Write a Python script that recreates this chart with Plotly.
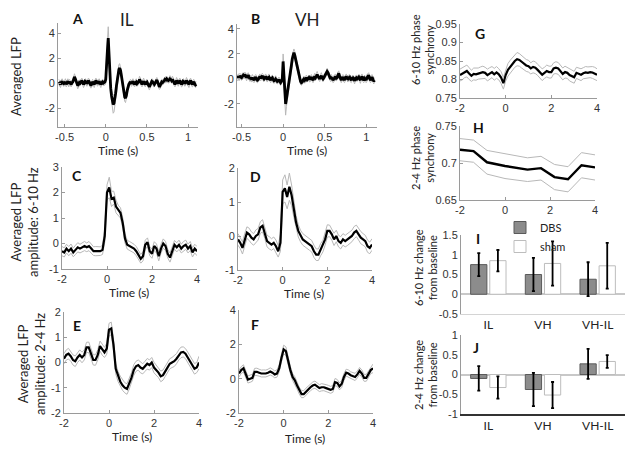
import numpy as np
import plotly.graph_objects as go

# window size and the page's default body margin (figure is drawn at +8,+8)
WIN_W, WIN_H, OFF = 635, 453, 8
W, H = WIN_W - 2 * OFF, WIN_H - 2 * OFF

# ---------------- data ----------------
# Panel A: averaged LFP, IL (time step 0.01 s, starting at -0.57 s)
lfp_A = [
 0.1, 0.0, -0.1, 0.05, 0.15, 0.0, -0.05,
 0.0, 0.1, -0.1, 0.05, 0.15, -0.05, 0.1, 0.0, -0.1, 0.05,
 0.1, 0.3, 0.5, 0.35, 0.1, -0.1, -0.2, -0.1, 0.05, 0.0,
 0.1, 0.2, 0.05, -0.1, 0.0, 0.15, 0.1, -0.05, 0.05, 0.2,
 0.1, -0.1, -0.2, -0.05, 0.1, 0.0, -0.1, 0.05, 0.2, 0.1,
 -0.05, 0.05, 0.15, 0.0, -0.1, 0.05, 0.1, 0.0, 0.05, 0.1,
 0.3, 2.2, 2.6, 3.6, 2.0, 0.5, -0.4, -1.0, -1.4, -1.7,
 -1.6, -1.3, -0.8, -0.2, 0.4, 0.8, 1.1, 1.2, 1.0, 0.6,
 0.1, -0.4, -0.8, -1.1, -1.2, -1.0, -0.6, -0.3, -0.1, 0.0,
 0.1, -0.05, 0.05, 0.15, 0.0, -0.1, 0.05, 0.1, -0.05, 0.0,
 0.1, 0.3, 0.15, 0.0, -0.1, 0.05, 0.15, 0.0, -0.1, 0.05,
 0.1, -0.05, -0.2, -0.3, -0.15, 0.05, 0.15, 0.1, -0.05, -0.1,
 0.0, 0.1, 0.25, 0.1, -0.1, -0.3, -0.2, 0.0, 0.1, 0.05,
 0.1, 0.2, 0.3, 0.25, 0.35, 0.3, 0.2, 0.25, 0.35, 0.3,
 0.2, 0.3, 0.15, 0.0, -0.1, 0.05, 0.2, 0.1, -0.05, 0.1,
 0.2, 0.05, -0.1, 0.0, 0.15, 0.1, -0.05, 0.05, 0.2, 0.1,
 0.0, -0.1, 0.1, 0.2, 0.05, -0.1, 0.0, 0.1, -0.05, -0.15, -0.1,
]
sem_A = [
 0.2, 0.2, 0.25, 0.2, 0.2, 0.2, 0.2,
 0.2, 0.25, 0.2, 0.2, 0.2, 0.25, 0.2, 0.2, 0.2, 0.2,
 0.2, 0.2, 0.25, 0.2, 0.2, 0.2, 0.25, 0.2, 0.2, 0.2,
 0.2, 0.2, 0.2, 0.25, 0.2, 0.2, 0.2, 0.2, 0.25, 0.2,
 0.2, 0.25, 0.2, 0.2, 0.2, 0.2, 0.25, 0.2, 0.2, 0.2,
 0.2, 0.2, 0.2, 0.2, 0.25, 0.2, 0.2, 0.2, 0.2, 0.25,
 0.3, 0.6, 0.8, 0.9, 0.7, 0.4, 0.3, 0.4, 0.5, 0.7,
 0.7, 0.5, 0.4, 0.3, 0.3, 0.35, 0.4, 0.35, 0.3, 0.3,
 0.3, 0.3, 0.3, 0.35, 0.35, 0.3, 0.25, 0.25, 0.2, 0.2,
 0.2, 0.2, 0.25, 0.2, 0.2, 0.2, 0.2, 0.25, 0.2, 0.2,
 0.2, 0.25, 0.2, 0.2, 0.2, 0.2, 0.25, 0.2, 0.2, 0.2,
 0.2, 0.2, 0.2, 0.25, 0.2, 0.2, 0.2, 0.2, 0.25, 0.2,
 0.2, 0.25, 0.2, 0.2, 0.2, 0.2, 0.25, 0.2, 0.2, 0.2,
 0.2, 0.2, 0.2, 0.25, 0.2, 0.2, 0.2, 0.2, 0.25, 0.2,
 0.2, 0.25, 0.2, 0.2, 0.2, 0.2, 0.25, 0.2, 0.2, 0.2,
 0.2, 0.2, 0.2, 0.25, 0.2, 0.2, 0.2, 0.2, 0.25, 0.2,
 0.2, 0.25, 0.2, 0.2, 0.2, 0.2, 0.25, 0.2, 0.2, 0.2, 0.2,
]
# Panel B: averaged LFP, VH (time step 0.01 s, starting at -0.55 s)
lfp_B = [
 0.05, 0.2, 0.1, 0.25, 0.15,
 0.1, 0.2, 0.3, 0.2, 0.35, 0.25, 0.1, 0.2, 0.3, 0.15,
 0.0, 0.1, -0.05, 0.1, 0.0, -0.1, 0.05, 0.15, 0.0, -0.1,
 -0.05, 0.1, 0.2, 0.05, 0.15, 0.25, 0.1, 0.0, 0.1, 0.2,
 0.05, -0.05, 0.1, 0.15, 0.0, -0.1, 0.05, 0.1, -0.05, -0.15,
 -0.1, 0.0, -0.1, -0.2, -0.15, -0.05, -0.2, -0.3, -0.2, 0.0,
 1.4, 0.3, -1.0, -2.0, -1.6, -1.2, -0.8, -0.4, 0.0, 0.5,
 1.1, 1.6, 1.9, 2.1, 1.9, 1.6, 1.2, 0.9, 0.6, 0.3,
 0.0, -0.2, -0.3, -0.25, -0.1, 0.0, -0.1, 0.05, 0.1, -0.05,
 0.0, 0.1, -0.05, 0.05, 0.15, 0.0, -0.1, 0.05, 0.2, 0.1,
 0.2, 0.35, 0.2, 0.1, 0.0, 0.15, 0.25, 0.1, 0.0, 0.1,
 0.2, 0.3, 0.45, 0.6, 0.5, 0.3, 0.1, 0.0, 0.1, 0.05,
 -0.1, 0.0, 0.15, 0.2, 0.05, 0.1, 0.3, 0.45, 0.2, 0.0,
 -0.1, 0.05, 0.15, 0.0, -0.1, 0.1, 0.2, 0.05, 0.0, 0.1,
 0.15, 0.0, -0.1, 0.05, 0.1, 0.0, -0.15, 0.05, 0.1, 0.0,
 0.05, 0.15, 0.0, -0.1, 0.1, 0.2, 0.0, -0.1, 0.05, 0.0,
 -0.1, 0.1, 0.25, 0.3, 0.05, -0.1, 0.0, 0.15, 0.0, -0.2, -0.1,
]
sem_B = [
 0.2, 0.2, 0.25, 0.2, 0.2,
 0.2, 0.25, 0.2, 0.2, 0.2, 0.2, 0.25, 0.2, 0.2, 0.2,
 0.2, 0.2, 0.2, 0.25, 0.2, 0.2, 0.2, 0.2, 0.25, 0.2,
 0.2, 0.25, 0.2, 0.2, 0.2, 0.2, 0.25, 0.2, 0.2, 0.2,
 0.2, 0.2, 0.2, 0.25, 0.2, 0.2, 0.2, 0.2, 0.25, 0.2,
 0.2, 0.25, 0.2, 0.2, 0.2, 0.2, 0.25, 0.2, 0.2, 0.25,
 0.6, 0.5, 0.7, 0.9, 0.6, 0.4, 0.3, 0.3, 0.3, 0.3,
 0.3, 0.3, 0.35, 0.3, 0.3, 0.3, 0.25, 0.25, 0.2, 0.2,
 0.2, 0.25, 0.2, 0.2, 0.2, 0.2, 0.25, 0.2, 0.2, 0.2,
 0.2, 0.2, 0.2, 0.25, 0.2, 0.2, 0.2, 0.2, 0.25, 0.2,
 0.2, 0.25, 0.2, 0.2, 0.2, 0.2, 0.25, 0.2, 0.2, 0.2,
 0.2, 0.2, 0.2, 0.25, 0.2, 0.2, 0.2, 0.2, 0.25, 0.2,
 0.2, 0.25, 0.2, 0.2, 0.2, 0.2, 0.25, 0.2, 0.2, 0.2,
 0.2, 0.2, 0.2, 0.25, 0.2, 0.2, 0.2, 0.2, 0.25, 0.2,
 0.2, 0.25, 0.2, 0.2, 0.2, 0.2, 0.25, 0.2, 0.2, 0.2,
 0.2, 0.2, 0.2, 0.25, 0.2, 0.2, 0.2, 0.2, 0.25, 0.2,
 0.2, 0.25, 0.2, 0.2, 0.2, 0.2, 0.25, 0.2, 0.2, 0.2, 0.2,
]

# Panels C-H: time -2..4 s, step 0.1 s
amp610_IL = [
 -0.3, -0.35, -0.2, -0.3, -0.2, -0.35, -0.25, -0.15, -0.2, -0.15,
 -0.1, -0.15, -0.1, -0.2, -0.3, -0.3, -0.3, -0.3, -0.25, 0.3,
 2.0, 2.2, 1.75, 1.8, 1.45, 1.3, 1.2, 0.8, 0.2, -0.05,
 -0.1, -0.15, -0.2, -0.3, -0.45, -0.6, -0.5, -0.05, 0.05, -0.3,
 -0.4, -0.1, -0.2, -0.5, -0.2, 0.0, -0.1, -0.4, -0.55, -0.3,
 -0.05, -0.15, -0.05, -0.2, -0.1, -0.05, -0.2, -0.1, -0.35, -0.2, -0.3,
]
sem610_IL = [
 0.18, 0.18, 0.17, 0.18, 0.18, 0.17, 0.18, 0.18, 0.17, 0.18,
 0.18, 0.17, 0.18, 0.18, 0.17, 0.18, 0.18, 0.17, 0.18, 0.25,
 0.3, 0.4, 0.3, 0.25, 0.25, 0.2, 0.2, 0.2, 0.18, 0.17,
 0.18, 0.18, 0.17, 0.18, 0.18, 0.17, 0.18, 0.18, 0.17, 0.18,
 0.18, 0.17, 0.18, 0.18, 0.17, 0.18, 0.18, 0.17, 0.18, 0.18,
 0.17, 0.18, 0.18, 0.17, 0.18, 0.18, 0.17, 0.18, 0.18, 0.17, 0.18,
]
amp610_VH = [
 -0.1, -0.2, -0.35, -0.1, 0.1, 0.05, -0.05, -0.1, 0.0, 0.05,
 0.25, 0.3, 0.1, -0.15, -0.2, -0.25, -0.2, -0.3, -0.45, -0.2,
 1.3, 1.4, 1.15, 1.45, 1.2, 0.8, 0.4, 0.15, 0.0, -0.1,
 -0.15, -0.2, -0.25, -0.3, -0.45, -0.55, -0.55, -0.4, -0.3, -0.1,
 0.15, 0.15, 0.05, -0.1, 0.0, -0.15, -0.2, -0.1, -0.15, -0.1,
 -0.05, 0.0, 0.1, 0.15, 0.05, -0.05, -0.1, -0.15, -0.3, -0.35, -0.25,
]
sem610_VH = [
 0.17, 0.17, 0.18, 0.17, 0.17, 0.18, 0.17, 0.17, 0.18, 0.17,
 0.17, 0.18, 0.17, 0.17, 0.18, 0.17, 0.17, 0.18, 0.17, 0.25,
 0.35, 0.4, 0.35, 0.4, 0.3, 0.25, 0.2, 0.18, 0.17, 0.17,
 0.17, 0.18, 0.17, 0.17, 0.18, 0.17, 0.17, 0.18, 0.17, 0.17,
 0.18, 0.17, 0.17, 0.18, 0.17, 0.17, 0.18, 0.17, 0.17, 0.18,
 0.17, 0.17, 0.18, 0.17, 0.17, 0.18, 0.17, 0.17, 0.18, 0.17, 0.17,
]
amp24_IL = [
 0.15, 0.3, 0.35, 0.25, 0.1, 0.05, 0.2, 0.3, 0.2, 0.3,
 0.6, 0.6, 0.35, 0.1, 0.1, 0.3, 0.65, 0.5, 0.4, 0.55,
 1.3, 1.35, 0.7, -0.25, -0.55, -0.75, -0.9, -1.0, -1.05, -0.85,
 -0.6, -0.3, -0.15, -0.1, -0.2, -0.25, -0.15, -0.05, -0.1, 0.0,
 -0.2, -0.3, -0.4, -0.55, -0.5, -0.35, -0.2, -0.05, 0.0, 0.05,
 0.15, 0.3, 0.4, 0.42, 0.35, 0.2, 0.05, -0.1, -0.25, -0.2, 0.0,
]
sem24_IL = [
 0.2, 0.2, 0.21, 0.2, 0.2, 0.21, 0.2, 0.2, 0.21, 0.2,
 0.2, 0.21, 0.2, 0.2, 0.21, 0.2, 0.2, 0.21, 0.2, 0.22,
 0.25, 0.25, 0.22, 0.2, 0.2, 0.21, 0.2, 0.2, 0.21, 0.2,
 0.2, 0.21, 0.2, 0.2, 0.21, 0.2, 0.2, 0.21, 0.2, 0.2,
 0.21, 0.2, 0.2, 0.21, 0.2, 0.2, 0.21, 0.2, 0.2, 0.21,
 0.2, 0.2, 0.21, 0.2, 0.2, 0.21, 0.2, 0.2, 0.21, 0.2, 0.25,
]
amp24_VH = [
 0.3, 0.5, 0.6, 0.3, -0.05, 0.0, 0.05, 0.4, 0.4, 0.35,
 0.3, 0.3, 0.3, 0.35, 0.42, 0.35, 0.25, 0.3, 0.6, 1.2,
 1.7, 1.6, 1.0, 0.5, 0.1, -0.1, -0.4, -0.7, -0.9, -0.9,
 -0.75, -0.65, -0.5, -0.4, -0.35, -0.45, -0.55, -0.5, -0.5, -0.55,
 -0.6, -0.65, -0.6, -0.2, -0.25, -0.45, -0.3, 0.1, 0.35, 0.3,
 0.2, 0.15, 0.1, 0.25, 0.45, 0.3, 0.05, 0.05, 0.25, 0.5, 0.6,
]
sem24_VH = [
 0.2, 0.2, 0.21, 0.2, 0.2, 0.21, 0.2, 0.2, 0.21, 0.2,
 0.2, 0.21, 0.2, 0.2, 0.21, 0.2, 0.2, 0.21, 0.2, 0.22,
 0.25, 0.25, 0.22, 0.2, 0.2, 0.21, 0.2, 0.2, 0.21, 0.2,
 0.2, 0.21, 0.2, 0.2, 0.21, 0.2, 0.2, 0.21, 0.2, 0.2,
 0.21, 0.2, 0.2, 0.21, 0.2, 0.2, 0.21, 0.2, 0.2, 0.21,
 0.2, 0.2, 0.21, 0.2, 0.2, 0.21, 0.2, 0.2, 0.21, 0.2, 0.25,
]
sync610 = [
 0.812, 0.815, 0.82, 0.823, 0.816, 0.81, 0.815, 0.814, 0.816, 0.818,
 0.82, 0.818, 0.812, 0.816, 0.82, 0.814, 0.819, 0.814, 0.805, 0.79,
 0.812, 0.826, 0.835, 0.843, 0.85, 0.855, 0.853, 0.848, 0.842, 0.838,
 0.836, 0.83, 0.834, 0.832, 0.826, 0.82, 0.813, 0.818, 0.823, 0.82,
 0.82, 0.83, 0.832, 0.83, 0.822, 0.815, 0.82, 0.818, 0.812, 0.81,
 0.806, 0.818, 0.816, 0.813, 0.817, 0.819, 0.818, 0.82, 0.819, 0.817, 0.813,
]
sync610_sem = [
 0.016, 0.016, 0.015, 0.016, 0.016, 0.015, 0.016, 0.016, 0.015, 0.016,
 0.016, 0.015, 0.016, 0.016, 0.015, 0.016, 0.016, 0.015, 0.016, 0.016,
 0.016, 0.017, 0.017, 0.017, 0.017, 0.018, 0.017, 0.017, 0.016, 0.016,
 0.016, 0.015, 0.016, 0.016, 0.015, 0.016, 0.016, 0.015, 0.016, 0.016,
 0.016, 0.015, 0.016, 0.016, 0.015, 0.016, 0.016, 0.015, 0.016, 0.016,
 0.016, 0.015, 0.016, 0.016, 0.015, 0.016, 0.016, 0.015, 0.016, 0.016, 0.016,
]
t_sync24 = [-2.0, -1.4, -0.8, 0.0, 1.0, 1.6, 2.2, 2.8, 3.4, 4.0]
sync24 = [0.718, 0.716, 0.701, 0.696, 0.691, 0.693, 0.681, 0.678, 0.697, 0.694]
sync24_sem = [0.015, 0.015, 0.016, 0.017, 0.016, 0.016, 0.017, 0.017, 0.017, 0.017]

# Panels I-J: change from baseline
regions = ["IL", "VH", "VH-IL"]
chg610_dbs = [0.75, 0.5, 0.38]
chg610_dbs_err = [0.29, 0.42, 0.43]
chg610_sham = [0.85, 0.78, 0.72]
chg610_sham_err = [0.27, 0.56, 0.58]
chg24_dbs = [-0.1, -0.38, 0.27]
chg24_dbs_err = [0.31, 0.42, 0.38]
chg24_sham = [-0.33, -0.52, 0.33]
chg24_sham_err = [0.28, 0.33, 0.16]

# tick labels
ticks_lfp_x = [-0.5, 0, 0.5, 1]
ticks_lfp_x_txt = ["-0.5", "0", "0.5", "1"]
ticks_time = [-2, 0, 2, 4]
ticks_time_txt = ["-2", "0", "2", "4"]

# ---------------- figure ----------------
TICKFONT = dict(family="Liberation Sans, Arial", size=11, color="#333333")
LABFONT = "Lato, Open Sans, sans-serif"
AXCOL = "#9a9a9a"
BAND = "#b8b8b8"


def PX(px):  # window pixel -> paper x
    return (px - OFF) / W


def PY(py):  # window pixel -> paper y
    return 1 - (py - OFF) / H


fig = go.Figure()

# window-pixel boxes (left, right, top, bottom) for axes 1..10
boxes = {
    1: (58, 198, 23, 127), 2: (237, 377, 24, 127),
    3: (62, 197, 167, 269), 4: (238, 372, 168, 270),
    5: (64, 199, 312, 413), 6: (239, 373, 310, 413),
    7: (460, 597, 24, 98), 8: (460, 595, 126, 200),
    9: (461, 625, 235, 314), 10: (461, 625, 335, 414),
}


def ax_names(n):
    return ("x" if n == 1 else f"x{n}"), ("y" if n == 1 else f"y{n}")


def add_band_line(n, t, m, s, lw):
    xa, ya = ax_names(n)
    m = np.asarray(m, float)
    s = np.asarray(s, float)
    for arr in (m - s, m + s):
        fig.add_trace(go.Scatter(x=t, y=arr, mode="lines", xaxis=xa, yaxis=ya,
                                 line=dict(color=BAND, width=1), showlegend=False,
                                 hoverinfo="skip"))
    fig.add_trace(go.Scatter(x=t, y=m, mode="lines", xaxis=xa, yaxis=ya,
                             line=dict(color="black", width=lw), showlegend=False))


tA = np.round(-0.57 + 0.01 * np.arange(len(lfp_A)), 2)
tB = np.round(-0.55 + 0.01 * np.arange(len(lfp_B)), 2)
tS = np.round(np.linspace(-2, 4, 61), 1)

add_band_line(1, tA, lfp_A, sem_A, 2.8)
add_band_line(2, tB, lfp_B, sem_B, 2.8)
add_band_line(3, tS, amp610_IL, sem610_IL, 2.2)
add_band_line(4, tS, amp610_VH, sem610_VH, 2.2)
add_band_line(5, tS, amp24_IL, sem24_IL, 2.2)
add_band_line(6, tS, amp24_VH, sem24_VH, 2.2)
add_band_line(7, tS, sync610, sync610_sem, 2.2)
add_band_line(8, t_sync24, sync24, sync24_sem, 2.4)

DBS_COL = "#8c8c8c"
for n, dbs, dbs_e, sh, sh_e, leg in [
    (9, chg610_dbs, chg610_dbs_err, chg610_sham, chg610_sham_err, True),
    (10, chg24_dbs, chg24_dbs_err, chg24_sham, chg24_sham_err, False),
]:
    xa, ya = ax_names(n)
    fig.add_trace(go.Bar(x=regions, y=dbs, name="DBS", xaxis=xa, yaxis=ya,
                         marker=dict(color=DBS_COL, line=dict(color="#5a5a5a", width=1)),
                         error_y=dict(type="data", array=dbs_e, color="black",
                                      thickness=1.8, width=1.5),
                         showlegend=leg, legendgroup="dbs"))
    fig.add_trace(go.Bar(x=regions, y=sh, name="sham", xaxis=xa, yaxis=ya,
                         marker=dict(color="white", line=dict(color="#bdbdbd", width=1)),
                         error_y=dict(type="data", array=sh_e, color="black",
                                      thickness=1.8, width=1.5),
                         showlegend=leg, legendgroup="sham"))

layout = dict(
    width=W, height=H, margin=dict(l=0, r=0, t=0, b=0, autoexpand=False),
    paper_bgcolor="white", plot_bgcolor="white",
    barmode="group", bargap=0.3, bargroupgap=0.15,
    showlegend=True,
    legend=dict(x=PX(500), y=PY(213), xanchor="left", yanchor="top",
                bgcolor="rgba(0,0,0,0)", font=dict(family=LABFONT, size=11, color="#222"),
                tracegroupgap=0, itemwidth=30),
)

yranges = {1: [-3.5, 4.8], 2: [-3.85, 4.4], 3: [-1, 3], 4: [-1, 2], 5: [-2, 2],
           6: [-2, 4], 7: [0.75, 0.95], 8: [0.65, 0.75], 9: [-0.5, 1.5], 10: [-1, 1]}
yticks = {
    1: ([-2, 0, 2, 4], ["-2", "0", "2", "4"]),
    2: ([-2, 0, 2, 4], ["-2", "0", "2", "4"]),
    3: ([-1, 0, 1, 2, 3], ["-1", "0", "1", "2", "3"]),
    4: ([-1, 0, 1, 2], ["-1", "0", "1", "2"]),
    5: ([-2, -1, 0, 1, 2], ["-2", "-1", "0", "1", "2"]),
    6: ([-2, 0, 2, 4], ["-2", "0", "2", "4"]),
    7: ([0.75, 0.8, 0.85, 0.9, 0.95], ["0.75", "0.8", "0.85", "0.9", "0.95"]),
    8: ([0.65, 0.7, 0.75], ["0.65", "0.7", "0.75"]),
    9: ([-0.5, 0, 0.5, 1, 1.5], ["-0.5", "0", "0.5", "1", "1.5"]),
    10: ([-1, -0.5, 0, 0.5, 1], ["-1", "-0.5", "0", "0.5", "1"]),
}

for n, (l, r, t, b) in boxes.items():
    xk = "xaxis" if n == 1 else f"xaxis{n}"
    yk = "yaxis" if n == 1 else f"yaxis{n}"
    xa, ya = ax_names(n)
    xd = dict(domain=[PX(l), PX(r)], anchor=ya, showgrid=False, zeroline=False,
              showline=True, linecolor=AXCOL, linewidth=1, tickfont=TICKFONT,
              ticks="inside", ticklen=3, tickcolor=AXCOL, automargin=False)
    if n in (1, 2):
        xd.update(range=[-0.58 if n == 1 else -0.555, 1.12 if n == 1 else 1.13],
                  tickvals=ticks_lfp_x, ticktext=ticks_lfp_x_txt)
    elif n <= 8:
        xd.update(range=[-2, 4], tickvals=ticks_time, ticktext=ticks_time_txt)
    else:
        xd.update(type="category", ticks="",
                  tickfont=dict(family=LABFONT, size=12, color="#222"))
        if n == 9:
            xd.update(linecolor="#d4d4d4")
        else:
            xd.update(linecolor="#333333", linewidth=2)
    yd = dict(domain=[PY(b), PY(t)], anchor=xa, showgrid=False,
              showline=True, linecolor=AXCOL, linewidth=1, tickfont=TICKFONT,
              range=yranges[n], tickvals=yticks[n][0], ticktext=yticks[n][1],
              ticks="inside", ticklen=3, tickcolor=AXCOL, zeroline=False,
              automargin=False)
    if n >= 9:
        yd.update(zeroline=True, zerolinecolor="#c8c8c8", zerolinewidth=1.5, ticks="")
    layout[xk] = xd
    layout[yk] = yd

fig.update_layout(**layout)


def ann(text, px, py, size, bold=False, angle=0, color="#222"):
    fig.add_annotation(x=PX(px), y=PY(py), xref="paper", yref="paper",
                       text=f"<b>{text}</b>" if bold else text, showarrow=False,
                       textangle=angle, xanchor="center", yanchor="middle",
                       font=dict(family=LABFONT, size=size, color=color))


# panel letters and titles
for txt, x, y in [("A", 77, 18), ("B", 255, 18), ("C", 77, 175), ("D", 255, 176),
                  ("E", 77, 325), ("F", 255, 324), ("G", 480, 33), ("H", 478, 127),
                  ("I", 478, 239), ("J", 476, 347)]:
    ann(txt, x, y, 14, bold=True, color="#111")
ann("IL", 127, 19, 17)
ann("VH", 307, 19, 17)

# x-axis titles
for x, y in [(118, 150), (307, 150), (129, 292), (304, 293), (132, 436), (305, 438)]:
    ann("Time (s)", x, y, 12)

# y-axis titles
ann("Averaged LFP", 16, 77, 13, angle=-90)
ann("Averaged LFP<br>amplitude: 6-10 Hz", 24, 222, 13, angle=-90)
ann("Averaged LFP<br>amplitude: 2-4 Hz", 31, 364, 13, angle=-90)
ann("6-10 Hz phase<br>synchrony", 422, 50, 11, angle=-90)
ann("2-4 Hz phase<br>synchrony", 422, 158, 11, angle=-90)
ann("6-10 Hz change<br>from baseline", 425, 268, 11, angle=-90)
ann("2-4 Hz change<br>from baseline", 425, 375, 11, angle=-90)

fig.write_html("out.html")
